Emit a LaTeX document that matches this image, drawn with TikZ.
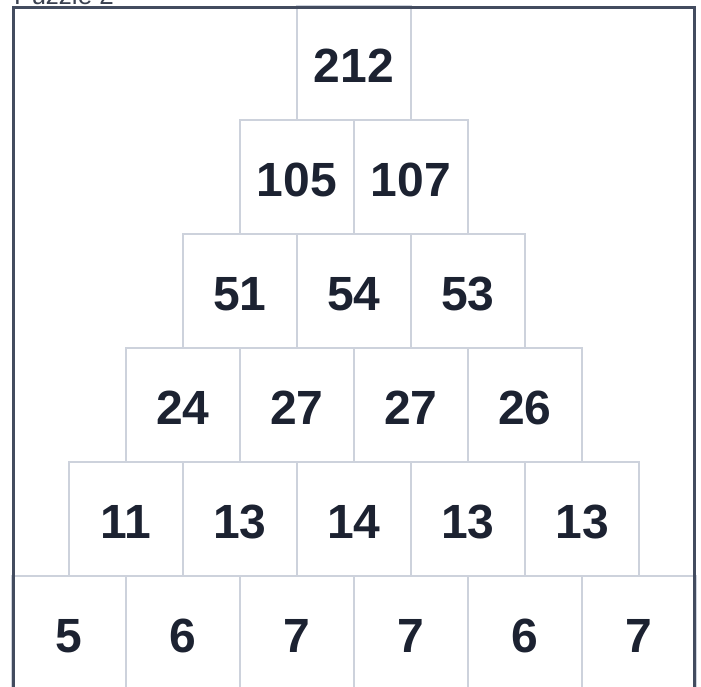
\documentclass[tikz,border=0pt]{standalone}
\usepackage{fontspec}
\setmainfont{Liberation Sans}
\definecolor{cellline}{HTML}{CDD2DC}
\definecolor{framecol}{HTML}{434C5F}
\definecolor{numcol}{HTML}{1C2231}
\definecolor{titlecol}{HTML}{3A4150}
\begin{document}
\begin{tikzpicture}[x=1pt,y=-1pt,
  cellbox/.style={draw=cellline,line width=1.5pt,fill=white,minimum width=114pt,minimum height=114pt,inner sep=0pt,outer sep=0pt},
  numtext/.style={text=numcol,font=\bfseries\fontsize{48}{48}\selectfont,inner sep=0pt,yshift=-3pt},
  frameline/.style={draw=framecol,line width=3pt}]
\useasboundingbox (0,0) rectangle (701,686);
\fill[white] (0,0) rectangle (701,686);
\node[anchor=base west,text=titlecol,font=\fontsize{26}{26}\selectfont,inner sep=0pt] (title) at (14,4.5) {Puzzle 2};
% row 0
\node[cellbox] (c00) at (354,63) {};
\node[numtext] (n00) at (c00.center) {212};
% row 1
\node[cellbox] (c10) at (297,177) {};
\node[numtext] (n10) at (c10.center) {105};
\node[cellbox] (c11) at (411,177) {};
\node[numtext] (n11) at (c11.center) {107};
% row 2
\node[cellbox] (c20) at (240,291) {};
\node[numtext] (n20) at (c20.center) {51};
\node[cellbox] (c21) at (354,291) {};
\node[numtext] (n21) at (c21.center) {54};
\node[cellbox] (c22) at (468,291) {};
\node[numtext] (n22) at (c22.center) {53};
% row 3
\node[cellbox] (c30) at (183,405) {};
\node[numtext] (n30) at (c30.center) {24};
\node[cellbox] (c31) at (297,405) {};
\node[numtext] (n31) at (c31.center) {27};
\node[cellbox] (c32) at (411,405) {};
\node[numtext] (n32) at (c32.center) {27};
\node[cellbox] (c33) at (525,405) {};
\node[numtext] (n33) at (c33.center) {26};
% row 4
\node[cellbox] (c40) at (126,519) {};
\node[numtext] (n40) at (c40.center) {11};
\node[cellbox] (c41) at (240,519) {};
\node[numtext] (n41) at (c41.center) {13};
\node[cellbox] (c42) at (354,519) {};
\node[numtext] (n42) at (c42.center) {14};
\node[cellbox] (c43) at (468,519) {};
\node[numtext] (n43) at (c43.center) {13};
\node[cellbox] (c44) at (582,519) {};
\node[numtext] (n44) at (c44.center) {13};
% row 5
\node[cellbox] (c50) at (69,633) {};
\node[numtext] (n50) at (c50.center) {5};
\node[cellbox] (c51) at (183,633) {};
\node[numtext] (n51) at (c51.center) {6};
\node[cellbox] (c52) at (297,633) {};
\node[numtext] (n52) at (c52.center) {7};
\node[cellbox] (c53) at (411,633) {};
\node[numtext] (n53) at (c53.center) {7};
\node[cellbox] (c54) at (525,633) {};
\node[numtext] (n54) at (c54.center) {6};
\node[cellbox] (c55) at (639,633) {};
\node[numtext] (n55) at (c55.center) {7};
% frame
\coordinate (fbl) at (13,700);
\coordinate (ftl) at (13,7.5);
\coordinate (ftr) at (694.5,7.5);
\coordinate (fbr) at (694.5,700);
\draw[frameline] (fbl) -- (ftl) -- (ftr) -- (fbr);
\end{tikzpicture}
\end{document}
